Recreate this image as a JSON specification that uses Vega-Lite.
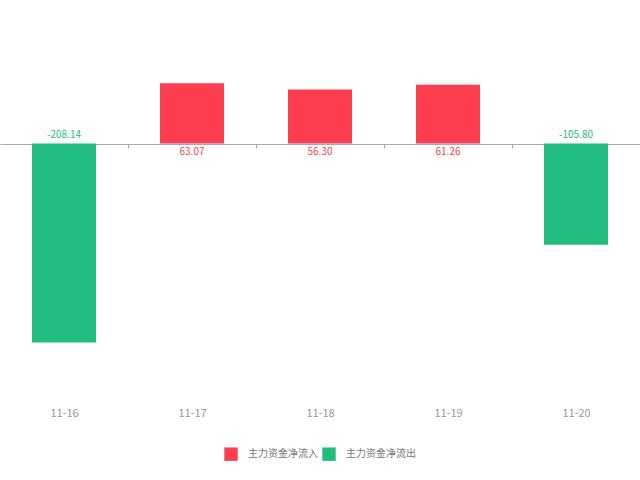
{
  "$schema": "https://vega.github.io/schema/vega-lite/v6.json",
  "width": 640,
  "height": 395,
  "autosize": {"type": "none"},
  "padding": {"left": 0, "top": 0, "right": 0, "bottom": 85},
  "config": {
    "view": {"stroke": null},
    "font": "Noto Sans CJK SC",
    "locale": {"number": {"decimal": ".", "thousands": ",", "grouping": [3], "currency": ["", ""], "minus": "-"}}
  },
  "data": {"values": [
    {"date": "11-16", "value": -208.14, "type": "主力资金净流出"},
    {"date": "11-17", "value": 63.07, "type": "主力资金净流入"},
    {"date": "11-18", "value": 56.30, "type": "主力资金净流入"},
    {"date": "11-19", "value": 61.26, "type": "主力资金净流入"},
    {"date": "11-20", "value": -105.80, "type": "主力资金净流出"}
  ]},
  "encoding": {
    "x": {"field": "date", "type": "nominal", "sort": null,
      "scale": {"paddingInner": 0.5, "paddingOuter": 0.25},
      "axis": {"orient": "bottom", "offset": -251, "title": null, "domain": true, "domainColor": "#aaaaaa",
        "ticks": true, "tickOffset": 64, "labelOffset": -64, "tickSize": 4, "tickColor": "#aaaaaa", "labelAngle": 0,
        "labelPadding": 259, "labelFontSize": 11, "labelColor": "#999999", "grid": false}},
    "y": {"field": "value", "type": "quantitative", "scale": {"domain": [-263, 150], "nice": false, "zero": false}, "axis": null}
  },
  "layer": [
    {
      "mark": {"type": "bar"},
      "encoding": {
        "color": {"field": "type", "type": "nominal",
          "scale": {"domain": ["主力资金净流入", "主力资金净流出"], "range": ["#fd3e4e", "#22be80"]},
          "legend": {"orient": "none", "legendX": 224, "legendY": 447, "direction": "horizontal", "title": null,
            "symbolType": "square", "symbolSize": 180, "symbolStrokeWidth": 0, "symbolOpacity": 1,
            "labelFontSize": 10, "labelColor": "#777777", "labelOffset": 10, "columnPadding": 4}}
      }
    },
    {
      "transform": [{"filter": "datum.value < 0"}],
      "mark": {"type": "text", "dy": -8, "fontSize": 10},
      "encoding": {
        "y": {"datum": 0, "type": "quantitative"},
        "text": {"field": "value", "type": "quantitative", "format": ".2f"},
        "color": {"field": "type", "type": "nominal", "legend": null}
      }
    },
    {
      "transform": [{"filter": "datum.value >= 0"}],
      "mark": {"type": "text", "dy": 9, "fontSize": 10},
      "encoding": {
        "y": {"datum": 0, "type": "quantitative"},
        "text": {"field": "value", "type": "quantitative", "format": ".2f"},
        "color": {"field": "type", "type": "nominal", "legend": null}
      }
    }
  ]
}
